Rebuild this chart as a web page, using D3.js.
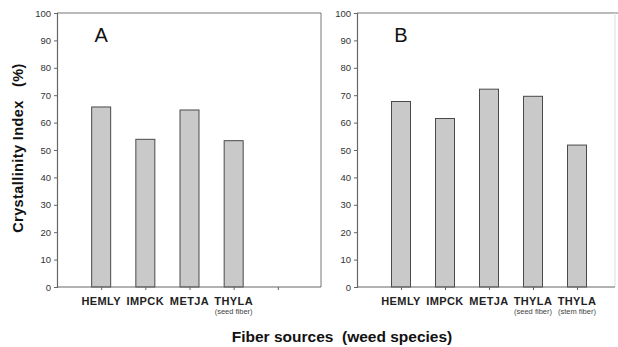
<!DOCTYPE html>
<html>
<head>
<meta charset="utf-8">
<script src="https://cdn.jsdelivr.net/npm/d3@7"></script>
<style>
  html, body { margin: 0; padding: 0; background: #fff; }
  svg { display: block; }
  .tick text { font-family: "Liberation Sans Narrow", "Arial Narrow", "Liberation Sans", sans-serif; font-size: 9.5px; fill: #333; }
  .cat { font-family: "Liberation Sans", Arial, sans-serif; font-weight: bold; font-size: 11px; fill: #222; letter-spacing: 0.4px; }
  .sub { font-family: "Liberation Sans", Arial, sans-serif; font-size: 7.5px; fill: #444; }
</style>
</head>
<body>
<div id="chart"></div>
<script>
// Crystallinity index of weed fibre sources, two panels (A, B)

const categories = ["HEMLY", "IMPCK", "METJA", "THYLA_seed", "THYLA_stem"];
const catLabels  = ["HEMLY", "IMPCK", "METJA", "THYLA", "THYLA"];
const subLabels  = ["", "", "", "(seed fiber)", "(stem fiber)"];
const valuesA = [65.7, 53.9, 64.6, 53.4, null];
const valuesB = [67.7, 61.5, 72.2, 69.6, 51.8];
const yTicks = [0, 10, 20, 30, 40, 50, 60, 70, 80, 90, 100];

const W = 618, H = 347;
const plotTop = 13, plotBottom = 287;
const panels = [
  { name: "A", values: valuesA, left: 57, right: 321, rangeRight: 322 },
  { name: "B", values: valuesB, left: 357, right: 615, rangeRight: 621 }
];

const svg = d3.select("#chart").append("svg").attr("width", W).attr("height", H);
const y = d3.scaleLinear().domain([0, 100]).range([plotBottom, plotTop]);

panels.forEach(p => {
  const g = svg.append("g");
  const x = d3.scalePoint().domain(categories).range([p.left, p.rangeRight]).padding(1);

  // frame: top and right edges
  g.append("line").attr("x1", p.left).attr("x2", p.name === "B" ? W : p.right)
    .attr("y1", plotTop).attr("y2", plotTop).attr("stroke", "#777").attr("stroke-width", 1.2);
  g.append("line").attr("x1", p.right).attr("x2", p.right)
    .attr("y1", plotTop).attr("y2", plotBottom)
    .attr("stroke", p.name === "B" ? "#ddd" : "#777").attr("stroke-width", 1);

  // bars
  const data = categories.map((c, i) => ({ c, v: p.values[i], label: catLabels[i], sub: subLabels[i] }));
  g.selectAll("rect.bar").data(data.filter(d => d.v != null)).enter().append("rect")
    .attr("class", "bar")
    .attr("x", d => x(d.c) - 9.5)
    .attr("width", 19)
    .attr("y", d => y(d.v))
    .attr("height", d => y(0) - y(d.v))
    .attr("fill", "#c9c9c9")
    .attr("stroke", "#4a4a4a")
    .attr("stroke-width", 1);

  // y axis
  const gy = g.append("g").attr("transform", `translate(${p.left},0)`)
    .call(d3.axisLeft(y).tickValues(yTicks).tickSize(3).tickPadding(3));
  gy.select(".domain").attr("stroke", "#666").attr("stroke-width", 1.2);
  gy.selectAll(".tick line").attr("stroke", "#666");

  // x axis
  const gx = g.append("g").attr("transform", `translate(0,${plotBottom})`)
    .call(d3.axisBottom(x).tickSize(3).tickFormat(""));
  gx.select(".domain").attr("d", `M${p.left},0H${p.right}`).attr("stroke", "#666").attr("stroke-width", 1.2);
  gx.selectAll(".tick line").attr("stroke", "#666");

  // category labels
  g.selectAll("text.cat").data(data.filter(d => d.v != null)).enter().append("text")
    .attr("class", "cat")
    .attr("x", d => x(d.c))
    .attr("y", 305)
    .attr("text-anchor", "middle")
    .text(d => d.label);
  g.selectAll("text.sub").data(data.filter(d => d.v != null && d.sub)).enter().append("text")
    .attr("class", "sub")
    .attr("x", d => x(d.c))
    .attr("y", 314)
    .attr("text-anchor", "middle")
    .text(d => d.sub);

  // panel letter
  g.append("text")
    .attr("x", x(categories[0]))
    .attr("y", 42)
    .attr("text-anchor", "middle")
    .attr("font-family", "Liberation Sans, Arial, sans-serif")
    .attr("font-size", 20)
    .attr("fill", "#111")
    .text(p.name);
});

// axis titles
svg.append("text")
  .attr("transform", `translate(23,148) rotate(-90)`)
  .attr("text-anchor", "middle")
  .attr("font-family", "Liberation Sans, Arial, sans-serif")
  .attr("font-weight", "bold")
  .attr("font-size", 14.5)
  .attr("letter-spacing", 0.4)
  .attr("fill", "#111")
  .attr("xml:space", "preserve")
  .text("Crystallinity Index   (%)");

svg.append("text")
  .attr("x", 342)
  .attr("y", 342)
  .attr("text-anchor", "middle")
  .attr("font-family", "Liberation Sans, Arial, sans-serif")
  .attr("font-weight", "bold")
  .attr("font-size", 15.5)
  .attr("fill", "#111")
  .attr("xml:space", "preserve")
  .text("Fiber sources  (weed species)");
</script>
</body>
</html>
